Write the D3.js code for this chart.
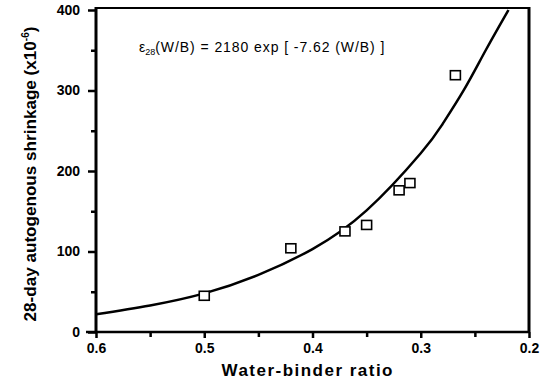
<!DOCTYPE html>
<html>
<head>
<meta charset="utf-8">
<script src="https://cdn.jsdelivr.net/npm/d3@7"></script>
<style>
  body { margin: 0; background: #fff; }
  svg { display: block; }
  .tick text { font-family: "Liberation Sans", Arial, sans-serif; font-weight: bold; font-size: 14px; }
</style>
</head>
<body>
<svg id="chart"></svg>
<script>
const width = 547, height = 382
const margin = { top: 8, bottom: 50, left: 96, right: 18 }

// measured points (w/b, shrinkage x10^-6)
const wbRatio = [0.50, 0.42, 0.37, 0.35, 0.32, 0.31, 0.268]
const shrinkage = [45, 104, 125, 133, 176, 185, 319]

// fitted curve
const curveWB = [0.60, 0.55, 0.50, 0.45, 0.40, 0.35, 0.30, 0.28, 0.26, 0.24, 0.219]
const curveShrink = [22, 33, 48, 71, 103, 151, 222, 258, 301, 350, 400]

const xTicks = [0.6, 0.5, 0.4, 0.3, 0.2]
const xMinor = [0.55, 0.45, 0.35, 0.25]
const yTicks = [0, 100, 200, 300, 400]
const yMinor = [50, 150, 250, 350]

const svg = d3.select("svg#chart")
    .attr("width", width)
    .attr("height", height)

const xScale = d3.scaleLinear()
    .domain([0.6, 0.2])
    .range([margin.left, width - margin.right])

const yScale = d3.scaleLinear()
    .domain([0, 400])
    .range([height - margin.bottom, margin.top + 2])

const x0 = margin.left, x1 = width - margin.right
const y0 = height - margin.bottom, y1 = margin.top

// frame
svg.append("line").attr("x1", x0).attr("x2", x1).attr("y1", y1).attr("y2", y1)
    .attr("stroke", "#000").attr("stroke-width", 2)
svg.append("line").attr("x1", x1).attr("x2", x1).attr("y1", y1 - 1).attr("y2", y0)
    .attr("stroke", "#000").attr("stroke-width", 3)

// Y axis
const yAxis = svg.append("g").classed("y-axis", true)
    .attr("transform", `translate(${x0}, 0)`)
    .call(d3.axisLeft(yScale).tickValues(yTicks).tickSize(8).tickPadding(8).tickSizeOuter(0))
yAxis.select(".domain").attr("stroke-width", 3).attr("d", `M0,${y0}V${y1 - 1}`)
yAxis.selectAll(".tick line").attr("stroke-width", 2.5)
svg.append("g")
    .attr("transform", `translate(${x0}, 0)`)
    .call(d3.axisLeft(yScale).tickValues(yMinor).tickSize(5).tickFormat(""))
    .call(g => g.select(".domain").remove())
    .selectAll(".tick line").attr("stroke-width", 2.5)

// X axis
const xAxis = svg.append("g").classed("x-axis", true)
    .attr("transform", `translate(0, ${y0})`)
    .call(d3.axisBottom(xScale).tickValues(xTicks).tickSize(6).tickPadding(5).tickSizeOuter(0)
        .tickFormat(d3.format(".1f")))
xAxis.select(".domain").attr("stroke-width", 2.5).attr("d", `M${x0 - 10},0H${x1}`)
xAxis.selectAll(".tick line").attr("stroke-width", 2.5)
svg.append("g")
    .attr("transform", `translate(0, ${y0})`)
    .call(d3.axisBottom(xScale).tickValues(xMinor).tickSize(5).tickFormat(""))
    .call(g => g.select(".domain").remove())
    .selectAll(".tick line").attr("stroke-width", 2.5)

// fitted curve
const line = d3.line()
    .x(d => xScale(d[0]))
    .y(d => yScale(d[1]))
    .curve(d3.curveNatural)

svg.append("path")
    .datum(d3.zip(curveWB, curveShrink))
    .attr("d", line)
    .attr("fill", "none")
    .attr("stroke", "#000")
    .attr("stroke-width", 2.5)

// data squares
svg.selectAll("rect.pt")
    .data(d3.zip(wbRatio, shrinkage))
    .enter()
    .append("rect").classed("pt", true)
    .attr("x", d => xScale(d[0]) - 5)
    .attr("y", d => yScale(d[1]) - 4.5)
    .attr("width", 10)
    .attr("height", 9)
    .attr("fill", "#fff")
    .attr("stroke", "#000")
    .attr("stroke-width", 1.6)

// equation
const eq = svg.append("text")
    .attr("x", 139).attr("y", 52)
    .attr("font-family", "'Liberation Sans', Arial, sans-serif")
    .attr("font-size", 14)
eq.append("tspan").text("\u03b5")
eq.append("tspan").attr("font-size", 9).attr("dy", 3).text("28")
eq.append("tspan").attr("dy", -3)
    .attr("textLength", 229).attr("lengthAdjust", "spacing")
    .text("(W/B) = 2180 exp [ -7.62 (W/B) ]")

// axis titles
svg.append("text")
    .attr("x", 307).attr("y", 376)
    .attr("text-anchor", "middle")
    .attr("font-family", "'Liberation Sans', Arial, sans-serif")
    .attr("font-weight", "bold")
    .attr("font-size", 17)
    .attr("textLength", 171)
    .attr("lengthAdjust", "spacing")
    .text("Water-binder ratio")

const yt = svg.append("text")
    .attr("transform", `translate(36, ${(y0 + y1) / 2 + 4}) rotate(-90)`)
    .attr("text-anchor", "middle")
    .attr("font-family", "'Liberation Sans Narrow', 'Liberation Sans', Arial, sans-serif")
    .attr("font-weight", "bold")
    .attr("font-size", 17)
    .attr("textLength", 295)
    .attr("lengthAdjust", "spacingAndGlyphs")
yt.append("tspan").text("28-day autogenous shrinkage (x10")
yt.append("tspan").attr("font-size", 10).attr("dy", -7).text("-6")
yt.append("tspan").attr("dy", 7).text(")")
</script>
</body>
</html>
